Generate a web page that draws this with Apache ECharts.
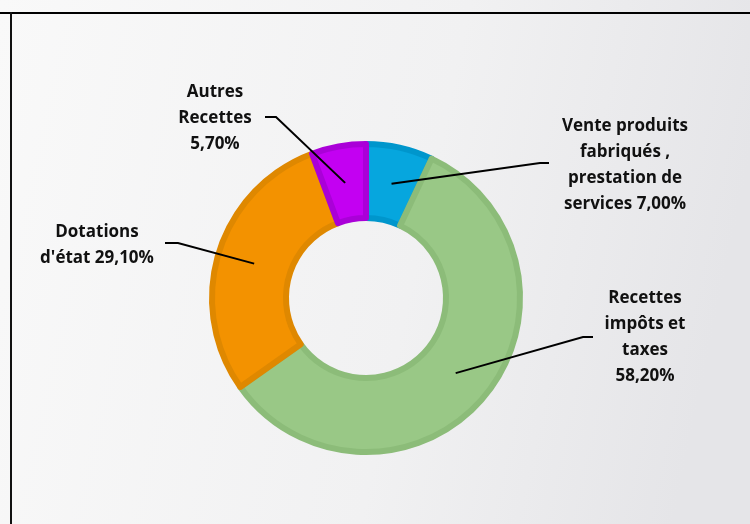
<!DOCTYPE html>
<html>
<head>
<meta charset="utf-8">
<script src="https://cdn.jsdelivr.net/npm/echarts@6/dist/echarts.min.js"></script>
<style>
  html, body { margin: 0; padding: 0; }
  #chart { width: 750px; height: 524px; }
</style>
</head>
<body>
<div id="chart"></div>
<script>
// categories and shares (%), clockwise from 12 o'clock
var categories = [
  "Vente produits\nfabriqués ,\nprestation de\nservices",
  "Recettes\nimpôts et\ntaxes",
  "Dotations\nd'état",
  "Autres\nRecettes"
];
var shares = [7.0, 58.2, 29.1, 5.7];
var colors = ["#06a6de", "#99c886", "#f39200", "#c300f2"];
var rims = ["#0096cc", "#8cbc79", "#df8800", "#aa00d8"];

// centre of the ring in px (also used to anchor the label lines)
var CX = 366, CY = 298, R_IN = 80, R_OUT = 154;

// where each text block sits, and where its leader line bends
var labelSpots = [
  { x: 625, y: 165, bend: [540, 163], end: [549, 163] },
  { x: 645, y: 337, bend: [583, 337], end: [593, 337] },
  { x: 97,  y: 245, bend: [178, 243], end: [165, 243] },
  { x: 215, y: 118, bend: [276, 117], end: [265, 117] }
];

var myChart = echarts.init(document.getElementById("chart"));

var total = shares.reduce(function (a, b) { return a + b; }, 0);
var pieData = categories.map(function (c, i) {
  return {
    name: c,
    value: shares[i],
    itemStyle: { color: colors[i], borderColor: rims[i] }
  };
});
// same slices, invisible, only to carry labels above the coloured ring
var labelData = categories.map(function (c, i) {
  return { name: c, value: shares[i] };
});

// anchor point in the middle of the ring at the slice's mid angle
function anchor(i) {
  var before = 0;
  for (var k = 0; k < i; k++) before += shares[k];
  var mid = (before + shares[i] / 2) / total * Math.PI * 2;
  var r = (R_IN + R_OUT) / 2;
  return [CX + r * Math.sin(mid), CY - r * Math.cos(mid)];
}

var option = {
  backgroundColor: {
    type: "linear", x: 0, y: 0, x2: 1, y2: 0.3,
    colorStops: [
      { offset: 0, color: "#f9f9f9" },
      { offset: 0.6, color: "#f1f1f2" },
      { offset: 1, color: "#e5e5e8" }
    ]
  },
  animation: false,
  graphic: [
    { type: "line", shape: { x1: 0, y1: 13, x2: 750, y2: 13 }, style: { stroke: "#000", lineWidth: 2 } },
    { type: "line", shape: { x1: 11, y1: 12, x2: 11, y2: 524 }, style: { stroke: "#111", lineWidth: 2 } }
  ],
  series: [
    {
      type: "pie",
      center: [CX, CY],
      radius: [R_IN, R_OUT],
      startAngle: 90,
      clockwise: true,
      itemStyle: { borderWidth: 6 },
      label: { show: false },
      labelLine: { show: false },
      emphasis: { disabled: true },
      data: pieData
    },
    {
      type: "pie",
      z: 5,
      silent: true,
      center: [CX, CY],
      radius: [R_IN, R_OUT],
      startAngle: 90,
      clockwise: true,
      itemStyle: { color: "rgba(0,0,0,0)" },
      label: {
        show: true,
        position: "outside",
        color: "#111",
        fontFamily: "Open Sans",
        fontWeight: "bold",
        fontSize: 17,
        lineHeight: 26,
        align: "center",
        formatter: function (p) {
          var v = p.value.toFixed(2).replace(".", ",") + "%";
          var sep = (p.dataIndex === 1 || p.dataIndex === 3) ? "\n" : " ";
          return p.name + sep + v;
        }
      },
      labelLine: { show: true, lineStyle: { color: "#000", width: 2 } },
      labelLayout: function (params) {
        var s = labelSpots[params.dataIndex];
        return {
          x: s.x,
          y: s.y,
          align: "center",
          verticalAlign: "middle",
          labelLinePoints: [anchor(params.dataIndex), s.bend, s.end]
        };
      },
      emphasis: { disabled: true },
      data: labelData
    }
  ]
};

myChart.setOption(option);
</script>
</body>
</html>
